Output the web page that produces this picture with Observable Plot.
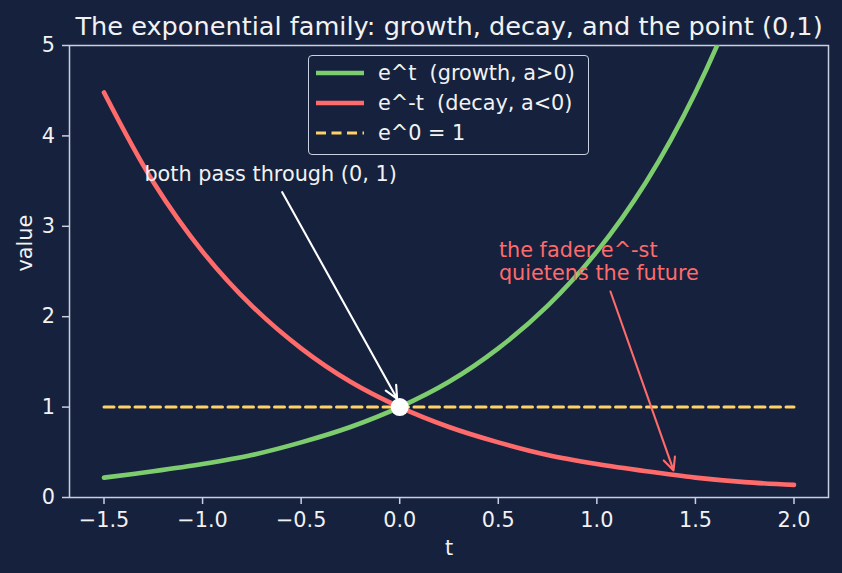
<!DOCTYPE html>
<html><head><meta charset="utf-8">
<script src="https://cdn.jsdelivr.net/npm/d3@7"></script>
<script src="https://cdn.jsdelivr.net/npm/@observablehq/plot@0.6"></script>
<style>
html,body{margin:0;padding:0;background:#16213e;}
#wrap{position:relative;width:842px;height:573px;font-family:"DejaVu Sans",sans-serif;overflow:hidden;}
#wrap svg{position:absolute;left:0;top:0;}
.legend{position:absolute;box-sizing:border-box;border:1.5px solid #c9d1e0;border-radius:4px;background:rgba(22,33,62,0.85);}
.lrow{position:absolute;height:30px;display:flex;align-items:center;white-space:pre;color:#f2f2f2;font-size:20.8px;}
</style></head><body><div id="wrap"></div>
<script>
// ---- data ----
const tValues      = [-1.5, -1.25, -1.0, -0.75, -0.5, -0.25, 0.0, 0.25, 0.5, 0.75, 1.0, 1.25, 1.5, 1.75, 2.0];
const growthValues = [0.22, 0.29, 0.37, 0.47, 0.61, 0.78, 1.00, 1.28, 1.65, 2.12, 2.72, 3.49, 4.48, 5.75, 7.39];
const decayValues  = [4.48, 3.49, 2.72, 2.12, 1.65, 1.28, 1.00, 0.78, 0.61, 0.47, 0.37, 0.29, 0.22, 0.17, 0.14];
const baselineT      = [-1.5, 2.0];
const baselineValues = [1, 1];
const pointT = [0];
const pointValue = [1];
const xTicks = [-1.5, -1.0, -0.5, 0.0, 0.5, 1.0, 1.5, 2.0];
const yTicks = [0, 1, 2, 3, 4, 5];
const seriesNames = ["e^t  (growth, a>0)", "e^-t  (decay, a<0)", "e^0 = 1"];
const titleText = "The exponential family: growth, decay, and the point (0,1)";
const xLabel = "t";
const yLabel = "value";
const annotationTexts = ["both pass through (0, 1)", "the fader e^-st\nquietens the future"];
const annotationTextT = [-1.295, 0.503];
const annotationTextV = [3.57, 2.835];
const arrowFromT = [-0.596, 1.069];
const arrowFromV = [3.377, 2.279];
const arrowToT   = [-0.013, 1.389];
const arrowToV   = [1.092, 0.299];

// ---- style ----
const bg = "#16213e", spine = "#c9d1e0", txt = "#f2f2f2";
const green = "#7dcc6e", red = "#ff6b6b", yellow = "#ffd166";
const seriesColors = [green, red, yellow];
const FS = 20.8;

const annIdx = [0, 1];
const chart = Plot.plot({
  width: 842, height: 573,
  marginLeft: 69, marginRight: 14, marginTop: 45, marginBottom: 76,
  style: {background: "transparent", fontFamily: "DejaVu Sans", fontSize: FS + "px", color: txt, overflow: "visible"},
  x: {domain: [-1.675, 2.175]},
  y: {domain: [0, 5]},
  marks: [
    Plot.axisX({ticks: xTicks, tickFormat: d3.format(".1f"), tickSize: 7, tickPadding: 7.5, label: null, stroke: spine, strokeWidth: 1.5, fill: txt, fontSize: FS}),
    Plot.axisY({ticks: yTicks, tickFormat: d3.format("d"), tickSize: 7, tickPadding: 7.5, label: null, stroke: spine, strokeWidth: 1.5, fill: txt, fontSize: FS}),
    Plot.frame({stroke: spine, strokeWidth: 1.5}),
    Plot.line(tValues, {x: tValues, y: growthValues, stroke: green, strokeWidth: 4.6, curve: "catmull-rom", clip: true}),
    Plot.line(tValues, {x: tValues, y: decayValues, stroke: red, strokeWidth: 4.6, curve: "catmull-rom", clip: true}),
    Plot.line(baselineT, {x: baselineT, y: baselineValues, stroke: yellow, strokeWidth: 3, strokeDasharray: "10,5.5"}),
    Plot.dot(pointT, {x: pointT, y: pointValue, r: 9, fill: "white", stroke: "none"}),
    Plot.arrow(annIdx, {x1: i => arrowFromT[i], y1: i => arrowFromV[i], x2: i => arrowToT[i], y2: i => arrowToV[i],
      stroke: i => ["white", red][i], strokeWidth: 2.1, headLength: 10, headAngle: 50}),
    Plot.text([annotationTexts[0]], {x: [annotationTextT[0]], y: [annotationTextV[0]], textAnchor: "start", fill: txt, fontSize: FS}),
    Plot.text([annotationTexts[1]], {x: [annotationTextT[1]], y: [annotationTextV[1]], textAnchor: "start", lineAnchor: "top", lineHeight: 1.1, fill: red, fontSize: FS}),
    Plot.text([titleText], {frameAnchor: "top", dy: -29, fontSize: 25.6, fill: txt}),
    Plot.text([xLabel], {frameAnchor: "bottom", dy: 57, fontSize: FS, fill: txt}),
    Plot.text([yLabel], {frameAnchor: "left", dx: -44, rotate: -90, fontSize: FS, fill: txt})
  ]
});
const wrap = document.getElementById("wrap");
wrap.appendChild(chart);

// ---- legend ----
const leg = document.createElement("div");
leg.className = "legend";
Object.assign(leg.style, {left: "308px", top: "55px", width: "281px", height: "100px"});
wrap.appendChild(leg);
const rowY = [73.3, 103.3, 133.3];
seriesNames.forEach((name, i) => {
  const row = document.createElement("div");
  row.className = "lrow";
  row.style.left = "316px";
  row.style.top = (rowY[i] - 15) + "px";
  const dash = i === 2 ? 'stroke-dasharray="10,5.5"' : "";
  const sw = i === 2 ? 3 : 4.6;
  row.innerHTML = `<svg width="48" height="30" style="position:static;margin-right:14px"><line x1="0" x2="48" y1="15" y2="15" stroke="${seriesColors[i]}" stroke-width="${sw}" ${dash}/></svg><span>${name}</span>`;
  wrap.appendChild(row);
});
</script></body></html>
